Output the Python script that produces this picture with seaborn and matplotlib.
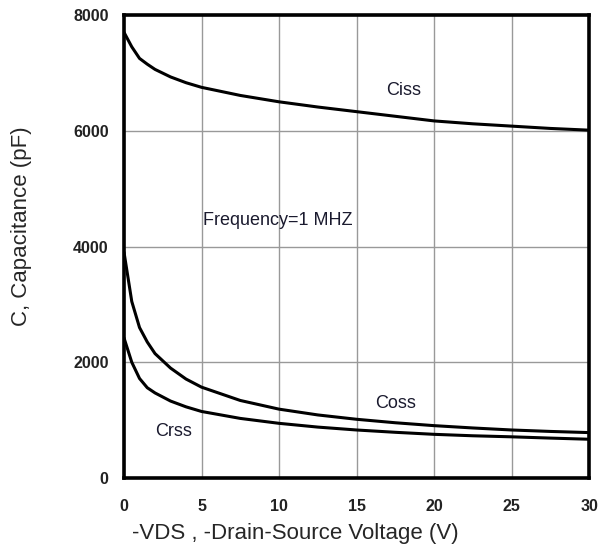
import matplotlib
matplotlib.use("Agg")
import matplotlib.pyplot as plt
import seaborn as sns
import pandas as pd

vds = [0, 0.5, 1.0, 1.5, 2, 3, 4, 5, 7.5, 10, 12.5, 15, 17.5, 20, 22.5, 25, 27.5, 30]
ciss = [7700, 7450, 7250, 7150, 7060, 6930, 6830, 6750, 6610, 6500, 6410, 6330, 6250, 6170, 6120, 6080, 6040, 6010]
coss = [3900, 3050, 2600, 2350, 2150, 1900, 1710, 1570, 1340, 1190, 1090, 1015, 955, 905, 865, 830, 805, 785]
crss = [2420, 2000, 1720, 1560, 1470, 1330, 1230, 1150, 1030, 945, 880, 830, 790, 755, 730, 712, 690, 670]

xticks = [0, 5, 10, 15, 20, 25, 30]
yticks = [0, 2000, 4000, 6000, 8000]

df = pd.DataFrame({"vds": vds * 3,
                   "c": ciss + coss + crss,
                   "s": ["Ciss"] * len(vds) + ["Coss"] * len(vds) + ["Crss"] * len(vds)})

sns.set_style("white")
plt.rcParams['font.family'] = ['Liberation Sans', 'DejaVu Sans']

fig = plt.figure(figsize=(6, 5.47), dpi=100)
ax = fig.add_axes([0.2067, 0.1261, 0.775, 0.8465])
sns.lineplot(data=df, x="vds", y="c", units="s", estimator=None, color="black",
             linewidth=2.2, ax=ax, legend=False)

ax.set_xlim(0, 30)
ax.set_ylim(0, 8000)
ax.set_xticks(xticks)
ax.set_yticks(yticks)
ax.set_xticklabels([str(t) for t in xticks], fontsize=11.5, fontweight="bold", color="#222222")
ax.set_yticklabels([str(t) for t in yticks], fontsize=11.5, fontweight="bold", color="#222222")
ax.tick_params(axis="y", length=0, pad=11)
ax.tick_params(axis="x", length=0, pad=15)
ax.grid(True, color="#999999", linewidth=1)
for sp in ax.spines.values():
    sp.set_visible(True)
    sp.set_color("black")
    sp.set_linewidth(2.6)

ax.set_xlabel("-VDS , -Drain-Source Voltage (V)", fontsize=16)
ax.set_ylabel("C, Capacitance (pF)", fontsize=16)
ax.xaxis.set_label_coords(295 / 600, 1 - 533 / 547, transform=fig.transFigure)
ax.yaxis.set_label_coords(22 / 600, 1 - 226 / 547, transform=fig.transFigure)
ax.xaxis.label.set_va("center")
ax.yaxis.label.set_va("center")

ax.text(18.06, 6690, "Ciss", fontsize=13, ha="center", va="center", color="#1a1a2e")
ax.text(17.5, 1290, "Coss", fontsize=13, ha="center", va="center", color="#1a1a2e")
ax.text(3.2, 800, "Crss", fontsize=13, ha="center", va="center", color="#1a1a2e")
ax.text(5.1, 4450, "Frequency=1 MHZ", fontsize=13, ha="left", va="center", color="#1a1a2e")

fig.savefig("out.png", dpi=100)
